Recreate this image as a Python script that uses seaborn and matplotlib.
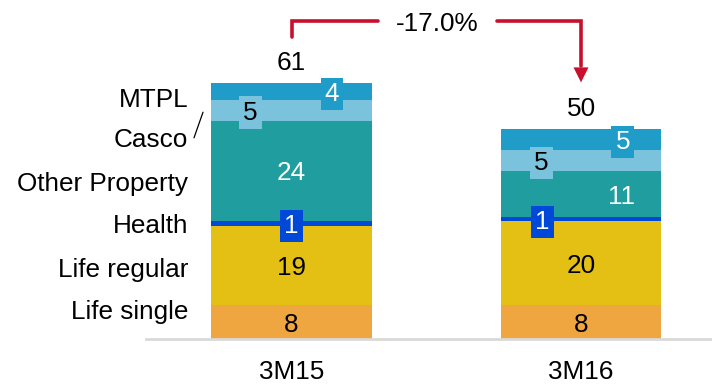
import matplotlib
matplotlib.use("Agg")
import matplotlib.pyplot as plt
import seaborn as sns
import numpy as np

# --- data -------------------------------------------------------------
periods = ["3M15", "3M16"]
segments = ["Life single", "Life regular", "Health", "Other Property", "Casco", "MTPL"]
life_single = [8, 8]
life_regular = [19, 20]
health = [1, 1]
other_property = [24, 11]
casco = [5, 5]
mtpl = [4, 5]
totals = [61, 50]
change_label = "-17.0%"

values = [life_single, life_regular, health, other_property, casco, mtpl]

# --- styling ----------------------------------------------------------
colors = {
    "Life single": "#F0A640",
    "Life regular": "#E3C013",
    "Health": "#0048D8",
    "Other Property": "#209D9E",
    "Casco": "#7BC3DD",
    "MTPL": "#1F9DC8",
}
text_colors = {
    "Life single": "black",
    "Life regular": "black",
    "Health": "white",
    "Other Property": "white",
    "Casco": "black",
    "MTPL": "white",
}
boxed = {"Health", "Casco", "MTPL"}
# horizontal label offsets (in bar-spacing units) per segment for each bar
label_dx = {
    "Life single": [0, 0],
    "Life regular": [0, 0],
    "Health": [0, -0.134],
    "Other Property": [0, 0.14],
    "Casco": [-0.143, -0.138],
    "MTPL": [0.14, 0.145],
}
red = "#C8102E"
FS = 18.8
VA = "center_baseline"

sns.set_theme(style="white")
plt.rcParams["font.family"] = ["Liberation Sans", "DejaVu Sans"]

fig = plt.figure(figsize=(7.12, 3.87), dpi=100)
ax = fig.add_axes([146 / 712, 48 / 387, (712 - 146) / 712, 339 / 387])

# stacked bars drawn as layered cumulative totals, tallest first
cum = np.cumsum(np.array(values), axis=0)
bar_w = 0.556
for i in range(len(segments) - 1, -1, -1):
    sns.barplot(x=periods, y=cum[i], color=colors[segments[i]], width=bar_w,
                saturation=1, errorbar=None, linewidth=0, ax=ax)

# segment value labels
for i, seg in enumerate(segments):
    for j in range(len(periods)):
        v = values[i][j]
        mid = cum[i][j] - v / 2
        kw = dict(ha="center", va=VA, fontsize=FS, color=text_colors[seg])
        if seg in boxed:
            kw["bbox"] = dict(boxstyle="square,pad=0.16", fc=colors[seg], ec="none")
        ax.text(j + label_dx[seg][j], mid, f"{v}", **kw)

# totals above bars
for j, t in enumerate(totals):
    ax.annotate(f"{t}", xy=(j, t), xytext=(0, 22), textcoords="offset pixels",
                ha="center", va=VA, fontsize=FS, color="black")

# segment names at the left
name_y = [7.1, 17.1, 27.4, 37.4, 47.9, 57.6]
for seg, y in zip(segments, name_y):
    ax.text(-0.3575, y, seg, ha="right", va=VA, fontsize=FS,
            color="black", clip_on=False)
ax.plot([-0.3368, -0.3057], [47.9, 54.0], color="black", lw=0.9, clip_on=False)

# change bracket with arrow
ax.plot([0, 0, 0.2988], [71.9, 75.7, 75.7], color=red, lw=2.6,
        solid_joinstyle="miter", clip_on=False)
ax.plot([0.7098, 1.0, 1.0], [75.7, 75.7, 65.0], color=red, lw=2.6,
        solid_joinstyle="miter", clip_on=False)
ax.annotate("", xy=(1.0, 61.1), xytext=(1.0, 65.5),
            arrowprops=dict(arrowstyle="-|>,head_length=0.9,head_width=0.45",
                            color=red, lw=0, shrinkA=0, shrinkB=0))
ax.text(0.5026, 75.7, change_label, ha="center", va=VA, fontsize=FS,
        color="black")

# axes cosmetics
ax.set_xlim(-0.5026, 1.4525)
ax.set_ylim(0, 339 / 4.2)
ax.set_yticks([])
ax.set_xlabel("")
ax.set_ylabel("")
ax.tick_params(axis="x", length=0, pad=15, labelsize=FS, labelcolor="black")
for side in ["top", "right", "left"]:
    ax.spines[side].set_visible(False)
ax.spines["bottom"].set_color("#D9D9D9")
ax.spines["bottom"].set_linewidth(2)

fig.savefig("out.png", dpi=100)
